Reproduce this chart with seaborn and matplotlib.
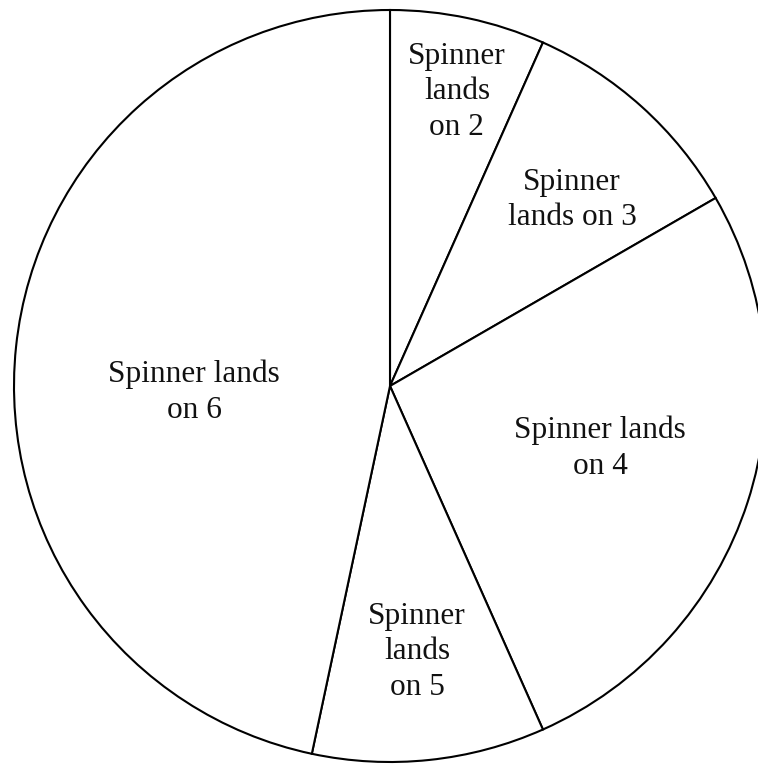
import matplotlib
matplotlib.use("Agg")
import matplotlib.pyplot as plt
import seaborn as sns

# spinner outcomes and how many times each came up (out of 30)
labels = ["Spinner\nlands\non 2", "Spinner\nlands on 3", "Spinner lands\non 4",
          "Spinner\nlands\non 5", "Spinner lands\non 6"]
counts = [2, 3, 8, 3, 14]

# where each label text sits (pie radius = 1)
label_pos = [(0.178, 0.782), (0.484, 0.495), (0.559, -0.165),
             (0.072, -0.707), (-0.521, -0.016)]

sns.set_theme(style="white")
plt.rcParams['font.family'] = ['Liberation Serif', 'DejaVu Serif']

fig = plt.figure(figsize=(7.58, 7.65), dpi=100)
ax = fig.add_axes([0, 0, 1, 1])

ax.pie(counts, startangle=90, counterclock=False,
       colors=["white"] * len(counts),
       wedgeprops=dict(edgecolor="black", linewidth=1.5))

for lab, (x, y) in zip(labels, label_pos):
    ax.text(x, y, lab, ha="center", va="center", multialignment="center",
            fontsize=22.5, color="#111111", linespacing=1.3)

# put the circle where it is in the original (center ~ (390, 386) px, r ~ 376 px)
ax.set_xlim(-390 / 376, (758 - 390) / 376)
ax.set_ylim(-(765 - 386) / 376, 386 / 376)
ax.set_aspect("auto")
ax.axis("off")

fig.savefig("out.png", dpi=100, facecolor="white")
